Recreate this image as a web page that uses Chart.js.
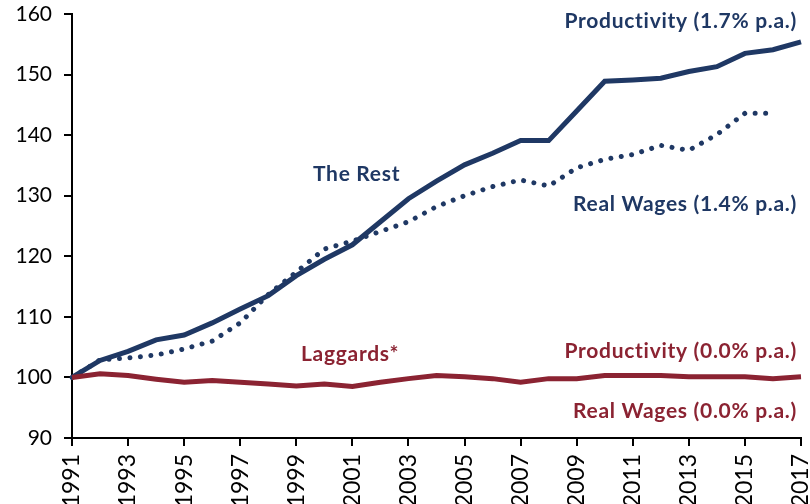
<!DOCTYPE html>
<html>
<head>
<meta charset="utf-8">
<script src="https://cdn.jsdelivr.net/npm/chart.js@4/dist/chart.umd.min.js"></script>
<style>
  html, body { margin: 0; padding: 0; background: #fff; overflow: hidden; }
  #wrap { width: 810px; height: 504px; position: relative; }
</style>
</head>
<body>
<div id="wrap"><canvas id="c" width="810" height="504"></canvas></div>
<script>
const years = ['1991','1992','1993','1994','1995','1996','1997','1998','1999','2000','2001','2002','2003','2004','2005','2006','2007','2008','2009','2010','2011','2012','2013','2014','2015','2016','2017'];
const restProductivity = [100, 102.8, 104.3, 106.2, 107.0, 109.0, 111.3, 113.5, 116.8, 119.5, 121.9, 125.7, 129.5, 132.4, 135.1, 137.0, 139.1, 139.1, 144.0, 148.9, 149.1, 149.4, 150.5, 151.3, 153.5, 154.1, 155.4];
const restWages = [100, 102.9, 103.2, 103.7, 104.7, 106.0, 109.0, 113.7, 117.4, 121.2, 122.5, 124.1, 125.7, 128.2, 130.0, 131.5, 132.6, 131.6, 134.6, 136.0, 136.8, 138.3, 137.5, 140.1, 143.6, 143.6, null];
const laggardsProductivity = [100.0, 100.6, 100.3, 99.7, 99.2, 99.5, 99.2, 98.9, 98.6, 98.9, 98.5, 99.2, 99.8, 100.3, 100.1, 99.8, 99.2, 99.8, 99.8, 100.3, 100.3, 100.3, 100.1, 100.1, 100.1, 99.8, 100.1];
const yTicks = [90, 100, 110, 120, 130, 140, 150, 160];

const NAVY = '#1F3864';
const RED = '#8B2332';

const annotations = [
  { text: 'Productivity (1.7% p.a.)', x: 797, y: 28, align: 'right', color: NAVY },
  { text: 'The Rest', x: 313, y: 181, align: 'left', color: NAVY },
  { text: 'Real Wages (1.4% p.a.)', x: 797, y: 211, align: 'right', color: NAVY },
  { text: 'Laggards*', x: 301, y: 361, align: 'left', color: RED },
  { text: 'Productivity (0.0% p.a.)', x: 797, y: 358, align: 'right', color: RED },
  { text: 'Real Wages (0.0% p.a.)', x: 797, y: 418, align: 'right', color: RED }
];

const labelPlugin = {
  id: 'labels',
  afterDatasetsDraw(chart) {
    const ctx = chart.ctx;
    ctx.save();
    ctx.font = 'bold 21px Lato';
    if ('letterSpacing' in ctx) ctx.letterSpacing = '0.7px';
    ctx.textBaseline = 'alphabetic';
    annotations.forEach(a => {
      ctx.fillStyle = a.color;
      ctx.textAlign = a.align;
      ctx.fillText(a.text, a.x, a.y);
    });
    ctx.restore();
  }
};

new Chart(document.getElementById('c'), {
  type: 'line',
  data: {
    labels: years,
    datasets: [
      { data: laggardsProductivity, borderColor: RED, borderWidth: 5, pointRadius: 0, tension: 0 },
      { data: restWages, borderColor: NAVY, borderWidth: 5, borderDash: [0.01, 10.5], borderCapStyle: 'round', pointRadius: 0, tension: 0, spanGaps: false },
      { data: restProductivity, borderColor: NAVY, borderWidth: 5, pointRadius: 0, tension: 0 }
    ]
  },
  options: {
    responsive: false,
    animation: false,
    events: [],
    layout: { padding: { top: 14, right: 9, left: 0, bottom: 0 } },
    plugins: { legend: { display: false }, tooltip: { enabled: false } },
    scales: {
      x: {
        type: 'category',
        offset: false,
        border: { display: true, color: '#000', width: 2 },
        grid: {
          display: true, drawOnChartArea: false, drawTicks: true, tickLength: 8,
          lineWidth: 2, tickWidth: 2,
          color: '#000',
          tickColor: (c) => (c.index % 2 === 0 ? '#000' : 'rgba(0,0,0,0)')
        },
        ticks: {
          autoSkip: false, minRotation: 90, maxRotation: 90, padding: 8,
          color: '#000', font: { family: 'Lato', size: 23 },
          callback: function (v, i) { return i % 2 === 0 ? years[i] : ''; }
        },
        afterFit(scale) { scale.height = 66; scale.paddingLeft = 0; scale.paddingRight = 0; }
      },
      y: {
        min: 90, max: 160,
        border: { display: true, color: '#000', width: 2 },
        grid: { display: true, drawOnChartArea: false, drawTicks: true, tickLength: 8, lineWidth: 2, tickWidth: 2, color: '#000', tickColor: '#000' },
        afterBuildTicks(scale) { scale.ticks = yTicks.map(v => ({ value: v })); },
        ticks: { padding: 12, color: '#000', font: { family: 'Lato', size: 21 } },
        afterFit(scale) { scale.width = 72; scale.paddingTop = 0; scale.paddingBottom = 0; }
      }
    }
  },
  plugins: [labelPlugin]
});
</script>
</body>
</html>
